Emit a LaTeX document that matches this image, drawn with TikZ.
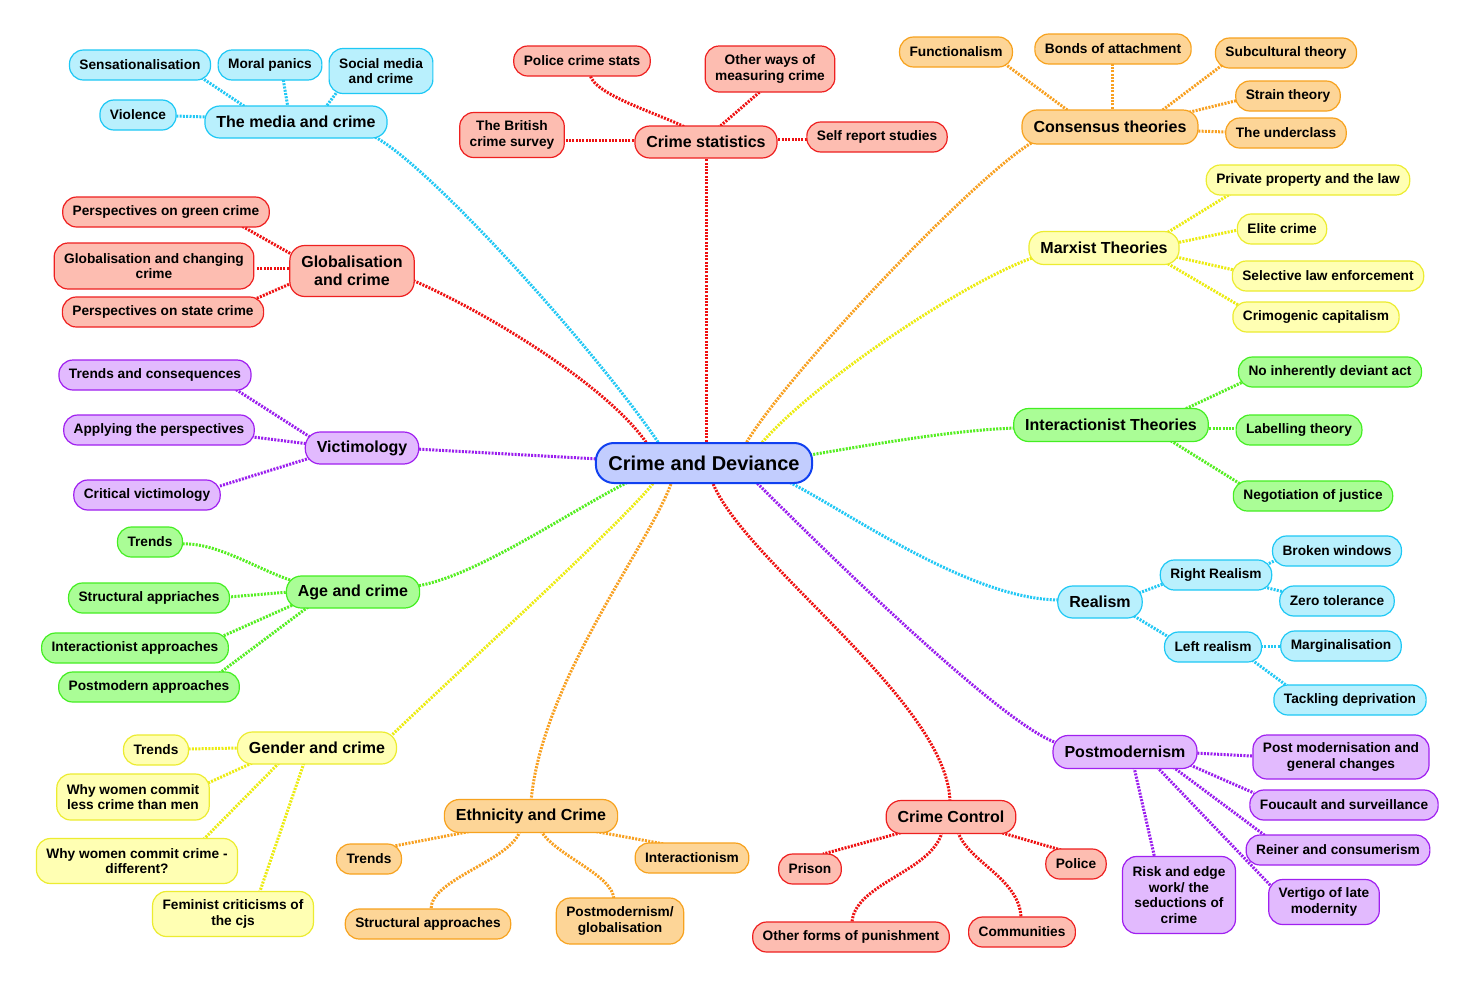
\documentclass[tikz,border=0pt]{standalone}
\usepackage{fontspec}
\setmainfont{Liberation Sans}
\usetikzlibrary{calc}
\pgfdeclarelayer{background}
\pgfsetlayers{background,main}
\definecolor{cyF}{RGB}{185,240,253}\definecolor{cyB}{RGB}{30,200,245}\definecolor{cyC}{RGB}{34,200,245}
\definecolor{reF}{RGB}{253,189,177}\definecolor{reB}{RGB}{238,32,32}\definecolor{reC}{RGB}{238,17,17}
\definecolor{orF}{RGB}{253,213,151}\definecolor{orB}{RGB}{247,162,30}\definecolor{orC}{RGB}{248,160,32}
\definecolor{yeF}{RGB}{255,255,179}\definecolor{yeB}{RGB}{236,236,48}\definecolor{yeC}{RGB}{236,236,16}
\definecolor{grF}{RGB}{170,253,150}\definecolor{grB}{RGB}{68,238,34}\definecolor{grC}{RGB}{85,238,34}
\definecolor{puF}{RGB}{226,186,254}\definecolor{puB}{RGB}{160,32,240}\definecolor{puC}{RGB}{154,30,238}
\definecolor{ceF}{RGB}{194,205,254}\definecolor{ceB}{RGB}{16,64,240}
\tikzset{
  box/.style={rounded corners=14pt, line width=1.2pt, inner xsep=10pt, inner ysep=3pt,
    minimum height=30pt, align=center, font=\bfseries\fontsize{13.7}{15.5}\selectfont},
  branch/.style={box, rounded corners=15pt, inner xsep=11.5pt, minimum height=32pt, font=\bfseries\fontsize{16}{18}\selectfont},
  central/.style={box, rounded corners=18pt, line width=2pt, inner xsep=12.5pt, minimum height=40pt,
    font=\bfseries\fontsize{20}{22}\selectfont, draw=ceB, fill=ceF},
  cy/.style={draw=cyB, fill=cyF}, re/.style={draw=reB, fill=reF}, or/.style={draw=orB, fill=orF},
  ye/.style={draw=yeB, fill=yeF}, gr/.style={draw=grB, fill=grF}, pu/.style={draw=puB, fill=puF},
  conn/.style={line width=3pt, dash pattern=on 2pt off 1.3pt},
  cyL/.style={conn, draw=cyC}, reL/.style={conn, draw=reC}, orL/.style={conn, draw=orC},
  yeL/.style={conn, draw=yeC}, grL/.style={conn, draw=grC}, puL/.style={conn, draw=puC}
}
\begin{document}
\begin{tikzpicture}[x=1pt,y=-1pt]
\path[use as bounding box] (0,0) rectangle (1476,986);
% central
\node[central] (cd) at (704,463) {Crime and Deviance};
% media
\node[branch,cy] (media) at (296,122) {The media and crime};
\node[box,cy] (sens) at (140,65) {Sensationalisation};
\node[box,cy] (moral) at (270,65) {Moral panics};
\node[box,cy,minimum height=45pt] (social) at (381,71) {Social media\\and crime};
\node[box,cy] (viol) at (138,115) {Violence};
% crime statistics
\node[branch,re] (stats) at (706,142) {Crime statistics};
\node[box,re] (police) at (582,61) {Police crime stats};
\node[box,re,minimum height=46pt] (other) at (770,69) {Other ways of\\measuring crime};
\node[box,re,minimum height=45pt] (bcs) at (512,135) {The British\\crime survey};
\node[box,re] (self) at (877,137) {Self report studies};
% consensus
\node[branch,or,minimum height=34pt] (cons) at (1110,127) {Consensus theories};
\node[box,or] (func) at (956,52) {Functionalism};
\node[box,or] (bonds) at (1113,49) {Bonds of attachment};
\node[box,or] (subc) at (1286,53) {Subcultural theory};
\node[box,or] (strain) at (1288,96) {Strain theory};
\node[box,or] (under) at (1286,133) {The underclass};
% marxist
\node[branch,ye,minimum height=33pt] (marx) at (1104,248) {Marxist Theories};
\node[box,ye] (priv) at (1308,180) {Private property and the law};
\node[box,ye] (elite) at (1282,229) {Elite crime};
\node[box,ye] (selec) at (1328,276) {Selective law enforcement};
\node[box,ye] (crimo) at (1316,317) {Crimogenic capitalism};
% interactionist
\node[branch,gr,minimum height=33pt] (inter) at (1111,425) {Interactionist Theories};
\node[box,gr] (noinh) at (1330,372) {No inherently deviant act};
\node[box,gr] (label) at (1299,430) {Labelling theory};
\node[box,gr] (negot) at (1313,496) {Negotiation of justice};
% realism
\node[branch,cy] (real) at (1100,602) {Realism};
\node[box,cy] (rr) at (1216,575) {Right Realism};
\node[box,cy] (lr) at (1213,647) {Left realism};
\node[box,cy] (broken) at (1337,551) {Broken windows};
\node[box,cy] (zero) at (1337,601) {Zero tolerance};
\node[box,cy] (marg) at (1341,646) {Marginalisation};
\node[box,cy] (tack) at (1350,700) {Tackling deprivation};
% postmodernism
\node[branch,pu,minimum height=33pt] (pm) at (1125,752) {Postmodernism};
\node[box,pu,minimum height=44pt] (pmg) at (1341,757) {Post modernisation and\\general changes};
\node[box,pu] (fouc) at (1344,805) {Foucault and surveillance};
\node[box,pu] (rein) at (1338,850) {Reiner and consumerism};
\node[box,pu,minimum height=45pt] (vert) at (1324,902) {Vertigo of late\\modernity};
\node[box,pu,minimum height=77pt] (risk) at (1179,895) {Risk and edge\\work/ the\\seductions of\\crime};
% crime control
\node[branch,re,minimum height=33pt] (cc) at (951,817) {Crime Control};
\node[box,re] (prison) at (810,869) {Prison};
\node[box,re] (policeb) at (1076,864) {Police};
\node[box,re] (otherf) at (851,937) {Other forms of punishment};
\node[box,re] (comm) at (1022,932) {Communities};
% ethnicity
\node[branch,or,minimum height=33pt] (eth) at (531,816) {Ethnicity and Crime};
\node[box,or] (etr) at (369,859) {Trends};
\node[box,or] (eint) at (692,858) {Interactionism};
\node[box,or] (estr) at (428,924) {Structural approaches};
\node[box,or,minimum height=46pt] (epm) at (620,921) {Postmodernism/\\globalisation};
% gender
\node[branch,ye] (gen) at (317,748) {Gender and crime};
\node[box,ye] (gtr) at (156,750) {Trends};
\node[box,ye,minimum height=46pt] (gless) at (133,797) {Why women commit\\less crime than men};
\node[box,ye,minimum height=45pt] (gdiff) at (137,861) {Why women commit crime -\\different?};
\node[box,ye,minimum height=45pt] (gfem) at (233,914) {Feminist criticisms of\\the cjs};
% age
\node[branch,gr] (age) at (353,592) {Age and crime};
\node[box,gr] (atr) at (150,542) {Trends};
\node[box,gr] (astr) at (149,598) {Structural appriaches};
\node[box,gr] (aint) at (135,648) {Interactionist approaches};
\node[box,gr] (apm) at (149,687) {Postmodern approaches};
% victimology
\node[branch,pu] (vict) at (362,448) {Victimology};
\node[box,pu] (vtr) at (155,375) {Trends and consequences};
\node[box,pu] (vapp) at (159,430) {Applying the perspectives};
\node[box,pu] (vcrit) at (147,495) {Critical victimology};
% globalisation
\node[branch,re,minimum height=51pt] (glob) at (352,271) {Globalisation\\and crime};
\node[box,re] (pgreen) at (166,212) {Perspectives on green crime};
\node[box,re,minimum height=46pt] (gchange) at (154,266) {Globalisation and changing\\crime};
\node[box,re] (pstate) at (163,312) {Perspectives on state crime};

\begin{pgfonlayer}{background}
\fill[white] (0,0) rectangle (1476,986);
% media
\draw[cyL] ($(cd)+(-44,-18)$) .. controls +(-60,-90) and +(55,27) .. ($(media)+(77,14)$);
\draw[cyL] ($(media)+(-49,-14)$) -- ($(sens)+(62,13)$);
\draw[cyL] ($(media)+(-8,-14)$) -- ($(moral)+(13,13)$);
\draw[cyL] ($(media)+(29,-14)$) -- ($(social)+(-41,17)$);
\draw[cyL] ($(media)+(-88,-5)$) -- ($(viol)+(37,1)$);
% stats
\draw[reL] ($(cd)+(2,-18)$) -- ($(stats)+(0,14)$);
\draw[reL] ($(stats)+(-19,-14)$) .. controls +(-30,-15) and +(5,20) .. ($(police)+(8,14)$);
\draw[reL] ($(stats)+(12,-14)$) -- ($(other)+(-8,21)$);
\draw[reL] ($(stats)+(-69,-2)$) -- ($(bcs)+(52,5)$);
\draw[reL] ($(stats)+(69,-3)$) -- ($(self)+(-69,2)$);
% consensus
\draw[orL] ($(cd)+(41,-18)$) .. controls +(40,-70) and +(-50,25) .. ($(cons)+(-75,14)$);
\draw[orL] ($(cons)+(-40,-15)$) -- ($(func)+(49,12)$);
\draw[orL] ($(cons)+(2,-15)$) -- ($(bonds)+(-1,13)$);
\draw[orL] ($(cons)+(50,-15)$) -- ($(subc)+(-61,10)$);
\draw[orL] ($(cons)+(76,-14)$) -- ($(strain)+(-49,4)$);
\draw[orL] ($(cons)+(85,4)$) -- ($(under)+(-59,-1)$);
% marxist
\draw[yeL] ($(cd)+(56,-18)$) .. controls +(50,-60) and +(-70,25) .. ($(marx)+(-72,10)$);
\draw[yeL] ($(marx)+(61,-14)$) -- ($(priv)+(-73,11)$);
\draw[yeL] ($(marx)+(72,-5)$) -- ($(elite)+(-44,1)$);
\draw[yeL] ($(marx)+(72,9)$) -- ($(selec)+(-94,-6)$);
\draw[yeL] ($(marx)+(61,14)$) -- ($(crimo)+(-76,-11)$);
% interactionist
\draw[grL] ($(cd)+(106,-8)$) .. controls +(70,-12) and +(-60,2) .. ($(inter)+(-95,3)$);
\draw[grL] ($(inter)+(72,-15)$) -- ($(noinh)+(-85,9)$);
\draw[grL] ($(inter)+(95,3)$) -- ($(label)+(-62,-2)$);
\draw[grL] ($(inter)+(57,14)$) -- ($(negot)+(-71,-11)$);
% realism
\draw[cyL] ($(cd)+(83,18)$) .. controls +(60,30) and +(-90,0) .. ($(real)+(-40,-2)$);
\draw[cyL] ($(real)+(39,-9)$) -- ($(rr)+(-53,9)$);
\draw[cyL] ($(real)+(34,14)$) -- ($(lr)+(-41,-8)$);
\draw[cyL] ($(rr)+(50,-10)$) -- ($(broken)+(-61,9)$);
\draw[cyL] ($(rr)+(48,12)$) -- ($(zero)+(-53,-9)$);
\draw[cyL] ($(lr)+(48,-1)$) -- ($(marg)+(-58,0)$);
\draw[cyL] ($(lr)+(39,13)$) -- ($(tack)+(-60,-12)$);
% postmodernism
\draw[puL] ($(cd)+(51,18)$) .. controls +(40,40) and +(-60,-20) .. ($(pm)+(-68,-9)$);
\draw[puL] ($(pm)+(69,1)$) -- ($(pmg)+(-89,-1)$);
\draw[puL] ($(pm)+(65,13)$) -- ($(fouc)+(-90,-12)$);
\draw[puL] ($(pm)+(48,15)$) -- ($(rein)+(-71,-13)$);
\draw[puL] ($(pm)+(32,15)$) -- ($(vert)+(-52,-15)$);
\draw[puL] ($(pm)+(9,15)$) -- ($(risk)+(-24,-36)$);
% crime control
\draw[reL] ($(cd)+(8,18)$) .. controls +(30,80) and +(0,-100) .. ($(cc)+(-1,-14)$);
\draw[reL] ($(cc)+(-44,14)$) -- ($(prison)+(13,-15)$);
\draw[reL] ($(cc)+(48,15)$) -- ($(policeb)+(-15,-14)$);
\draw[reL] ($(cc)+(-9,15)$) .. controls +(-10,40) and +(0,-40) .. ($(otherf)+(1,-13)$);
\draw[reL] ($(cc)+(7,15)$) .. controls +(10,30) and +(0,-40) .. ($(comm)+(-1,-13)$);
% ethnicity
\draw[orL] ($(cd)+(-32,18)$) .. controls +(-20,60) and +(10,-120) .. ($(eth)+(0,-14)$);
\draw[orL] ($(eth)+(-59,15)$) -- ($(etr)+(25,-13)$);
\draw[orL] ($(eth)+(62,15)$) -- ($(eint)+(-28,-14)$);
\draw[orL] ($(eth)+(-11,15)$) .. controls +(-10,30) and +(0,-30) .. ($(estr)+(3,-15)$);
\draw[orL] ($(eth)+(10,15)$) .. controls +(15,25) and +(0,-25) .. ($(epm)+(-6,-21)$);
% gender
\draw[yeL] ($(cd)+(-49,18)$) .. controls +(-30,40) and +(30,-30) .. ($(gen)+(75,-13)$);
\draw[yeL] ($(gen)+(-77,0)$) -- ($(gtr)+(31,-1)$);
\draw[yeL] ($(gen)+(-65,15)$) -- ($(gless)+(75,-14)$);
\draw[yeL] ($(gen)+(-38,15)$) -- ($(gdiff)+(66,-21)$);
\draw[yeL] ($(gen)+(-13,15)$) -- ($(gfem)+(26,-20)$);
% age
\draw[grL] ($(cd)+(-74,18)$) .. controls +(-60,30) and +(60,-10) .. ($(age)+(64,-6)$);
\draw[grL] ($(age)+(-63,-12)$) .. controls +(-35,-12) and +(35,-2) .. ($(atr)+(31,2)$);
\draw[grL] ($(age)+(-64,0)$) -- ($(astr)+(80,-1)$);
\draw[grL] ($(age)+(-58,12)$) -- ($(aint)+(88,-12)$);
\draw[grL] ($(age)+(-45,15)$) -- ($(apm)+(68,-12)$);
% victimology
\draw[puL] ($(cd)+(-105,-4)$) -- ($(vict)+(54,1)$);
\draw[puL] ($(vict)+(-52,-11)$) -- ($(vtr)+(77,12)$);
\draw[puL] ($(vict)+(-53,-4)$) -- ($(vapp)+(94,7)$);
\draw[puL] ($(vict)+(-52,10)$) -- ($(vcrit)+(73,-9)$);
% globalisation
\draw[reL] ($(cd)+(-56,-18)$) .. controls +(-40,-60) and +(70,30) .. ($(glob)+(60,9)$);
\draw[reL] ($(glob)+(-59,-16)$) -- ($(pgreen)+(74,13)$);
\draw[reL] ($(glob)+(-60,-3)$) -- ($(gchange)+(102,2)$);
\draw[reL] ($(glob)+(-60,12)$) -- ($(pstate)+(90,-12)$);
\end{pgfonlayer}
\end{tikzpicture}
\end{document}
